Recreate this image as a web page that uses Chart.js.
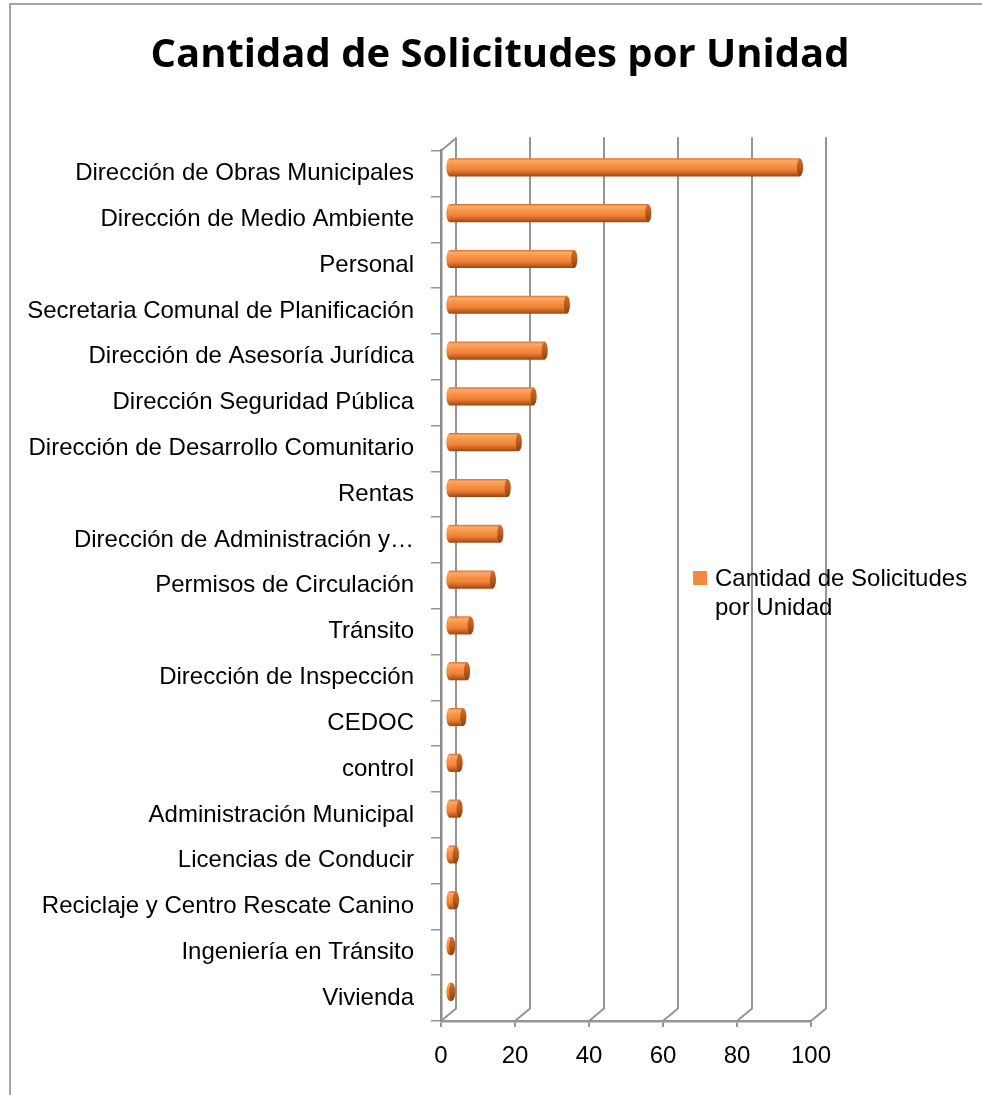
<!DOCTYPE html>
<html lang="es">
<head>
<meta charset="utf-8">
<title>Cantidad de Solicitudes por Unidad</title>
<script src="https://cdn.jsdelivr.net/npm/chart.js@4.4.1/dist/chart.umd.min.js"></script>
<style>
  html, body { margin: 0; padding: 0; background: #fff; overflow: hidden; }
  #marco {
    position: absolute; left: 9px; top: 3px; width: 1000px; height: 1200px;
    border-left: 2px solid #a5a5a5; border-top: 2px solid #a5a5a5;
  }
  #grafico { position: absolute; left: 0; top: 0; }
</style>
</head>
<body>
<div id="marco"></div>
<canvas id="grafico" width="982" height="1095"></canvas>
<script>
// =========================
// DATOS
// =========================

const unidades = [
  "Dirección de Obras Municipales",
  "Dirección de Medio Ambiente",
  "Personal",
  "Secretaria Comunal de Planificación",
  "Dirección de Asesoría Jurídica",
  "Dirección Seguridad Pública",
  "Dirección de Desarrollo Comunitario",
  "Rentas",
  "Dirección de Administración y…",
  "Permisos de Circulación",
  "Tránsito",
  "Dirección de Inspección",
  "CEDOC",
  "control",
  "Administración Municipal",
  "Licencias de Conducir",
  "Reciclaje y Centro Rescate Canino",
  "Ingeniería en Tránsito",
  "Vivienda"
];

const solicitudes = [95, 54, 34, 32, 26, 23, 19, 16, 14, 12, 6, 5, 4, 3, 3, 2, 2, 1, 1];

const serieNombre = "Cantidad de Solicitudes por Unidad";

const ejeMin = 0;
const ejeMax = 100;
const ejePaso = 20;

// =========================
// ESTILO
// =========================

const FUENTE = "'Liberation Sans', Arial, sans-serif";
const FUENTE_TITULO = "'Open Sans', 'Liberation Sans', sans-serif";
const GRIS = "#959595";

// desplazamiento de la pared del fondo y del eje de los cilindros (efecto 3D)
const FONDO = { dx: 15, dy: -12.5 };
const BARRA = { dx: 7.5, dy: -6.25 };
const GROSOR = 17.5;
const RADIO_TAPA = 3.1;

function degradado(ctx, cy, r)
{
  const g = ctx.createLinearGradient(0, cy - r, 0, cy + r);
  g.addColorStop(0, "#dd7630");
  g.addColorStop(0.12, "#fbaa6c");
  g.addColorStop(0.35, "#f89446");
  g.addColorStop(0.62, "#f0843a");
  g.addColorStop(0.85, "#c9621f");
  g.addColorStop(1, "#9c4814");
  return g;
}

// =========================
// PLUGIN: TITULO
// =========================

const titulo = {
  id: "titulo",
  afterDraw(chart)
  {
    const { ctx } = chart;
    ctx.save();
    ctx.font = "bold 40px " + FUENTE_TITULO;
    ctx.fillStyle = "#000";
    ctx.textAlign = "center";
    ctx.textBaseline = "middle";
    ctx.fillText(serieNombre, 500, 56);
    ctx.restore();
  }
};

// =========================
// PLUGIN: PAREDES 3D + CILINDROS
// =========================

const marco3d = {
  id: "marco3d",
  beforeDatasetsDraw(chart)
  {
    const { ctx, chartArea: a, scales: { x } } = chart;

    ctx.save();
    ctx.strokeStyle = GRIS;
    ctx.lineWidth = 2;

    for (let v = ejeMin; v <= ejeMax; v += ejePaso)
    {
      const px = x.getPixelForValue(v);
      ctx.beginPath();
      ctx.moveTo(px, a.bottom);
      ctx.lineTo(px + FONDO.dx, a.bottom + FONDO.dy);
      ctx.lineTo(px + FONDO.dx, a.top + FONDO.dy - 1);
      ctx.stroke();
    }

    // esquina superior izquierda
    ctx.beginPath();
    ctx.moveTo(a.left, a.top);
    ctx.lineTo(a.left + FONDO.dx, a.top + FONDO.dy);
    ctx.stroke();
    ctx.restore();

    // las barras quedan a media profundidad
    ctx.save();
    ctx.translate(BARRA.dx, BARRA.dy);
  },
  afterDatasetsDraw(chart)
  {
    const { ctx } = chart;
    const meta = chart.getDatasetMeta(0);

    meta.data.forEach((el) =>
    {
      const { x, y, base, height } = el.getProps(["x", "y", "base", "height"], true);
      const r = height / 2;

      // extremo izquierdo redondeado
      ctx.beginPath();
      ctx.ellipse(base, y, RADIO_TAPA, r, 0, Math.PI / 2, Math.PI * 1.5);
      ctx.closePath();
      ctx.fillStyle = degradado(ctx, y, r);
      ctx.fill();

      // tapa del cilindro
      const g = ctx.createLinearGradient(0, y - r, 0, y + r);
      g.addColorStop(0, "#d06c25");
      g.addColorStop(0.5, "#b95b1c");
      g.addColorStop(1, "#8c4011");
      ctx.beginPath();
      ctx.ellipse(x, y, RADIO_TAPA, r, 0, 0, Math.PI * 2);
      ctx.fillStyle = g;
      ctx.fill();
    });

    ctx.restore();
  }
};

// =========================
// PLUGIN: LEYENDA
// =========================

const leyenda = {
  id: "leyenda",
  afterDraw(chart)
  {
    const { ctx } = chart;
    const texto = chart.data.datasets[0].label;

    ctx.save();
    ctx.font = "24px " + FUENTE;

    // partir en renglones
    const lineas = [];
    let actual = "";
    texto.split(" ").forEach((p) =>
    {
      const prueba = actual ? actual + " " + p : p;
      if (ctx.measureText(prueba).width > 262 && actual)
      {
        lineas.push(actual);
        actual = p;
      }
      else
      {
        actual = prueba;
      }
    });
    lineas.push(actual);

    ctx.fillStyle = "#f58a3b";
    ctx.fillRect(693, 571, 14, 14);

    ctx.fillStyle = "#000";
    ctx.textBaseline = "middle";
    ctx.textAlign = "left";
    lineas.forEach((l, i) => ctx.fillText(l, 715, 579 + i * 29));
    ctx.restore();
  }
};

// =========================
// RELLENO DEL CILINDRO
// =========================

function rellenoCilindro(c)
{
  const escala = c.chart.scales.y;
  if (!escala || c.dataIndex === undefined) return "#f68b3b";

  const cy = escala.getPixelForValue(c.dataIndex);
  if (!Number.isFinite(cy)) return "#f68b3b";

  return degradado(c.chart.ctx, cy, GROSOR / 2);
}

// =========================
// CHART
// =========================

const grafico = new Chart(document.getElementById("grafico"), {
  type: "bar",
  data: {
    labels: unidades,
    datasets: [
      {
        label: serieNombre,
        data: solicitudes,
        backgroundColor: rellenoCilindro,
        borderWidth: 0,
        barThickness: GROSOR,
        clip: false
      }
    ]
  },
  options: {
    indexAxis: "y",
    responsive: false,
    animation: false,
    layout: {
      padding: { left: 12, right: 171, top: 150.7, bottom: 0 }
    },
    plugins: {
      legend: { display: false },
      tooltip: { enabled: false },
      title: { display: false }
    },
    scales: {
      x: {
        min: ejeMin,
        max: ejeMax,
        ticks: {
          stepSize: ejePaso,
          color: "#000",
          font: { family: FUENTE, size: 24 },
          padding: 15,
          maxRotation: 0
        },
        grid: {
          drawOnChartArea: false,
          drawTicks: true,
          tickLength: 6,
          color: GRIS,
          lineWidth: 2
        },
        border: { display: true, color: GRIS, width: 2.5 },
        afterFit(s) { s.height = 74; }
      },
      y: {
        ticks: {
          color: "#000",
          font: { family: FUENTE, size: 24 },
          padding: 17,
          autoSkip: false
        },
        grid: {
          drawOnChartArea: false,
          drawTicks: true,
          tickLength: 10,
          color: GRIS,
          lineWidth: 1.5
        },
        border: { display: true, color: "#8c8c8c", width: 2.5 },
        afterFit(s) { s.width = 429; }
      }
    }
  },
  plugins: [marco3d, leyenda, titulo]
});
</script>
</body>
</html>
